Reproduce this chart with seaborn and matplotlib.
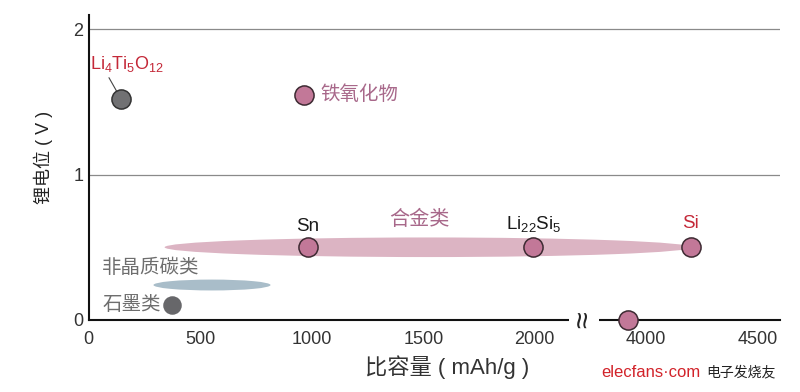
import matplotlib
matplotlib.use('Agg')
import matplotlib.pyplot as plt
import seaborn as sns
from matplotlib.patches import Ellipse
from pandas import DataFrame

# capacity (mAh/g) and potential vs Li (V) for each material
materials = ['Li4Ti5O12', '铁氧化物', 'Sn', 'Li22Si5', 'Si', '石墨类', 'Li']
capacity = [145, 964, 982, 1990, 4200, 372, 3920]
potential = [1.52, 1.55, 0.5, 0.5, 0.5, 0.1, 0.0]
kind = ['gray', 'mauve', 'mauve', 'mauve', 'mauve', 'graphite', 'mauve']

# ranges drawn as ellipses
alloy_range = [340, 4200]
alloy_v = 0.5
carbon_range = [290, 815]
carbon_v = 0.24

x_ticks = [0, 500, 1000, 1500, 2000, 4000, 4500]
y_ticks = [0, 1, 2]

BREAK_FROM = 2000
BREAK_GAP = 1500


def brk(x):
    # squeeze 2000..3500 out of the axis
    return x if x <= BREAK_FROM else x - BREAK_GAP


sns.set_style('white')
plt.rcParams['font.family'] = ['Liberation Sans', 'Noto Sans CJK SC']
plt.rcParams['mathtext.default'] = 'regular'

df = DataFrame({'material': materials, 'x': [brk(c) for c in capacity],
                'y': potential, 'kind': kind})

fig = plt.figure(figsize=(8, 3.92), dpi=100)
ax = fig.add_axes([0.111, 0.184, 0.864, 0.778])

RED = '#c42838'
MAUVE = '#a8688a'
GRAY = '#6e6e6e'

# horizontal grid lines
for yv in [1, 2]:
    ax.axhline(yv, color='#8a8a8a', lw=0.9, zorder=0)

# ellipses
ax.add_patch(Ellipse(((brk(alloy_range[0]) + brk(alloy_range[1])) / 2, alloy_v),
                     brk(alloy_range[1]) - brk(alloy_range[0]), 0.135,
                     facecolor='#dcb4c3', edgecolor='none', zorder=1))
ax.add_patch(Ellipse(((carbon_range[0] + carbon_range[1]) / 2, carbon_v),
                     carbon_range[1] - carbon_range[0], 0.075,
                     facecolor='#a9bdc9', edgecolor='none', zorder=1))

palette = {'gray': '#717173', 'mauve': '#c27898', 'graphite': '#67676a'}
edges = {'gray': '#333333', 'mauve': '#3d2a32', 'graphite': '#67676a'}
for k, sub in df.groupby('kind'):
    sns.scatterplot(data=sub, x='x', y='y', ax=ax, color=palette[k],
                    edgecolor=edges[k], linewidth=1.1,
                    s=190 if k != 'graphite' else 150, zorder=4, clip_on=False)

# labels
ax.annotate(r'Li$_4$Ti$_5$O$_{12}$', xy=(df.x[0], df.y[0]), xytext=(4, 25),
            textcoords='offset points', ha='center', va='center', fontsize=13,
            color=RED, arrowprops=dict(arrowstyle='-', color='#444444', lw=0.8,
                                       relpos=(0.22, 0.1), shrinkA=0, shrinkB=4))
ax.annotate('铁氧化物', xy=(df.x[1], df.y[1]), xytext=(12, 0),
            textcoords='offset points', ha='left', va='center', fontsize=14, color=MAUVE)
ax.annotate('Sn', xy=(df.x[2], df.y[2]), xytext=(0, 15),
            textcoords='offset points', ha='center', va='center', fontsize=13.5, color='#1a1a1a')
ax.annotate(r'Li$_{22}$Si$_5$', xy=(df.x[3], df.y[3]), xytext=(1, 17),
            textcoords='offset points', ha='center', va='center', fontsize=13.5, color='#1a1a1a')
ax.annotate('Si', xy=(df.x[4], df.y[4]), xytext=(0, 17),
            textcoords='offset points', ha='center', va='center', fontsize=13.5, color=RED)
ax.text(1484, 0.69, '合金类', ha='center', va='center', fontsize=14.5, color=MAUVE)
ax.text(278, 0.36, '非晶质碳类', ha='center', va='center', fontsize=14, color=GRAY)
ax.annotate('石墨类', xy=(df.x[5], df.y[5]), xytext=(-8, 0),
            textcoords='offset points', ha='right', va='center', fontsize=14, color=GRAY)

# axis break mark
ax.text(2220, 0, '≈', rotation=90, ha='center', va='center', fontsize=22,
        color='#222222', zorder=3, clip_on=False,
        bbox=dict(facecolor='white', edgecolor='none', pad=0))

ax.set_xlim(0, brk(4600))
ax.set_ylim(0, 2.1)
ax.set_xticks([brk(t) for t in x_ticks])
ax.set_xticklabels([str(t) for t in x_ticks])
ax.set_yticks(y_ticks)
ax.tick_params(axis='both', direction='in', length=7, width=1, color='#222222',
               labelsize=13, labelcolor='#333333')
ax.tick_params(axis='x', pad=8)
ax.tick_params(axis='y', pad=4)

for side in ['top', 'right']:
    ax.spines[side].set_visible(False)
for side in ['left', 'bottom']:
    ax.spines[side].set_linewidth(1.5)
    ax.spines[side].set_color('#111111')

ax.set_xlabel('比容量 ( mAh/g )', fontsize=16, color='#333333')
ax.set_ylabel('锂电位 ( V )', fontsize=13, color='#222222', fontweight='medium')
ax.xaxis.set_label_coords(0.518, -0.115)
ax.yaxis.set_label_coords(-0.052, 0.531)

# watermark
fig.text(0.752, 0.05, 'elecfans·com', color='#d2232a', fontsize=12, ha='left', va='center')
fig.text(0.883, 0.05, '电子发烧友', color='#222222', fontsize=10, ha='left', va='center')

fig.savefig('out.png', dpi=100)
